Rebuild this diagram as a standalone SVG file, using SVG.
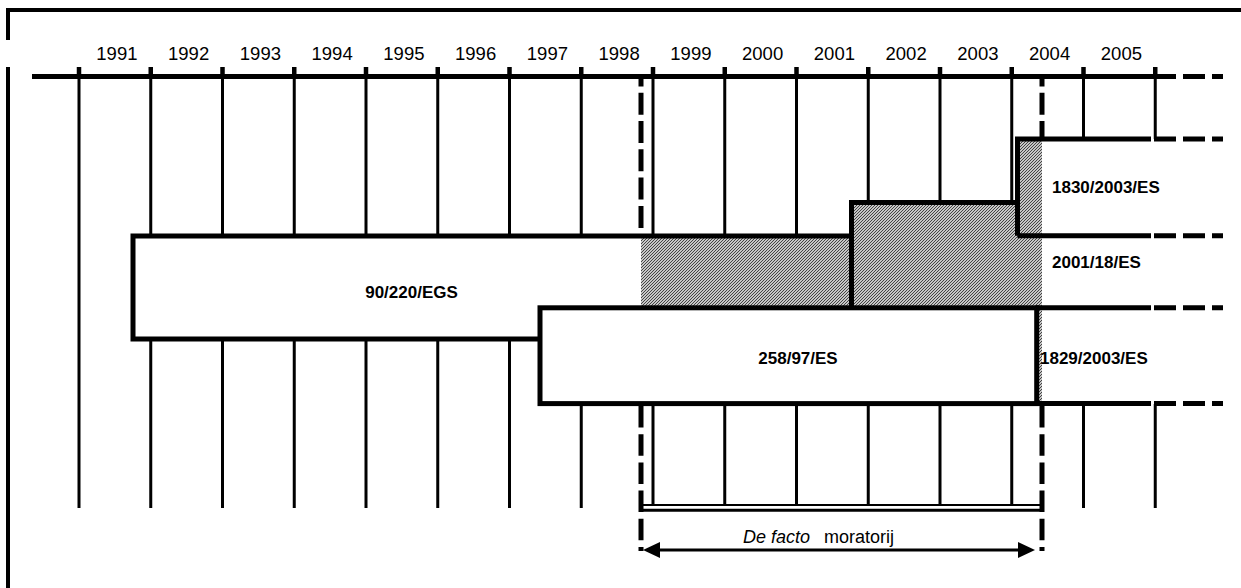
<svg xmlns="http://www.w3.org/2000/svg" width="1241" height="588" viewBox="0 0 1241 588">
<style>
.frame{fill:none;stroke:#000;stroke-width:4}
.axis{fill:none;stroke:#000;stroke-width:5}
.tick{stroke:#000;stroke-width:4.5}
.grid{fill:none;stroke:#000;stroke-width:3}
.edge{fill:none;stroke:#000;stroke-width:5}
.box{fill:#fff;stroke:#000;stroke-width:5}
.vdash{fill:none;stroke:#000;stroke-width:5}
.year{font-family:"Liberation Sans",Arial,sans-serif;font-size:18.5px;fill:#000;text-anchor:middle}
.lbl{font-family:"Liberation Sans",Arial,sans-serif;font-size:17px;font-weight:bold;fill:#000}
.note{font-family:"Liberation Sans",Arial,sans-serif;font-size:18px;fill:#000}
</style>
<defs>
<pattern id="hatch" patternUnits="userSpaceOnUse" width="3" height="3">
<rect width="3" height="3" fill="#fff"/>
<path d="M-1,1 L1,-1 M0,3 L3,0 M2,4 L4,2" stroke="#3a3a3a" stroke-width="1.1"/>
</pattern>
<marker id="head" viewBox="0 0 17 16" refX="10" refY="8" markerWidth="17" markerHeight="16" markerUnits="userSpaceOnUse" orient="auto-start-reverse">
<path d="M0,0 L17,8 L0,16 Z" fill="#000"/>
</marker>
</defs>
<rect width="1241" height="588" fill="#fff"/>

<g id="frame">
<path class="frame" d="M8,40 V10 H1241"/>
<path class="frame" d="M8,67 V588"/>
</g>

<g id="timeline">
<path class="axis" d="M32,76.5 H1176 M1183,76.5 H1205 M1212,76.5 H1223"/>
<path class="tick" d="M79,67 V77 M150.75,67 V77 M222.5,67 V77 M294.25,67 V77 M366,67 V77 M437.75,67 V77 M509.5,67 V77 M581.25,67 V77 M653,67 V77 M724.75,67 V77 M796.5,67 V77 M868.25,67 V77 M940,67 V77 M1011.75,67 V77 M1083.5,67 V77 M1155.25,67 V77"/>
<g class="year">
<text x="116.9" y="60">1991</text>
<text x="188.6" y="60">1992</text>
<text x="260.4" y="60">1993</text>
<text x="332.1" y="60">1994</text>
<text x="403.9" y="60">1995</text>
<text x="475.6" y="60">1996</text>
<text x="547.4" y="60">1997</text>
<text x="619.1" y="60">1998</text>
<text x="690.9" y="60">1999</text>
<text x="762.6" y="60">2000</text>
<text x="834.4" y="60">2001</text>
<text x="906.1" y="60">2002</text>
<text x="977.9" y="60">2003</text>
<text x="1049.6" y="60">2004</text>
<text x="1121.4" y="60">2005</text>
</g>
</g>

<g id="grid">
<path class="grid" d="M79,77 V508
M150.75,77 V236 M150.75,339 V508
M222.5,77 V236 M222.5,339 V508
M294.25,77 V236 M294.25,339 V508
M366,77 V236 M366,339 V508
M437.75,77 V236 M437.75,339 V508
M509.5,77 V236 M509.5,339 V508
M581.25,77 V236 M581.25,404 V508
M653,77 V236 M653,404 V505
M724.75,77 V236 M724.75,404 V505
M796.5,77 V236 M796.5,404 V505
M868.25,77 V202 M868.25,404 V505
M940,77 V202 M940,404 V505
M1011.75,77 V202 M1011.75,404 V505
M1083.5,77 V139 M1083.5,404 V508
M1155.25,77 V139 M1155.25,404 V508"/>
</g>

<g id="moratorium-shading">
<path d="M641,236 H851 V202 H1017 V139 H1042 V404 H641 Z" fill="url(#hatch)"/>
</g>

<g id="node-90-220-EGS">
<rect x="133" y="236" width="508" height="103" fill="#fff"/>
<path class="edge" d="M540,339 H133 V236 H851"/>
<text class="lbl" x="411.5" y="298" text-anchor="middle">90/220/EGS</text>
</g>

<g id="node-2001-18-ES">
<path class="edge" d="M851.5,308 V202.5 H1017.5"/>
<path class="edge" d="M1036,307.8 H1151 M1154,307.8 H1176 M1183,307.8 H1205 M1212,307.8 H1223"/>
<text class="lbl" x="1052" y="268">2001/18/ES</text>
</g>

<g id="node-1830-2003-ES">
<path class="edge" d="M1017.5,235.8 V139 H1151 M1154,139 H1176 M1183,139 H1205 M1212,139 H1223"/>
<path class="edge" d="M1017.5,235.8 H1151 M1154,235.8 H1176 M1183,235.8 H1205 M1212,235.8 H1223"/>
<text class="lbl" x="1052" y="193">1830/2003/ES</text>
</g>

<g id="node-258-97-ES">
<rect class="box" x="540" y="307.8" width="496.7" height="95.8"/>
<text class="lbl" x="798" y="364" text-anchor="middle">258/97/ES</text>
</g>

<g id="node-1829-2003-ES">
<path class="edge" d="M1036,403.6 H1151 M1154,403.6 H1176 M1183,403.6 H1205 M1212,403.6 H1223"/>
<text class="lbl" x="1040" y="364">1829/2003/ES</text>
</g>

<g id="connectors">
<path class="vdash" d="M641,79 V234" stroke-dasharray="22 6.3" stroke-dashoffset="14.6"/>
<path class="vdash" d="M1042,79 V137" stroke-dasharray="22 6.3" stroke-dashoffset="14.6"/>
<path class="vdash" d="M641,406 V551" stroke-dasharray="21.5 6.7"/>
<path class="vdash" d="M1042,406 V551" stroke-dasharray="21.5 6.7"/>
<path fill="none" stroke="#000" stroke-width="2" d="M639,505 H1044"/>
<path fill="none" stroke="#000" stroke-width="3" d="M639,510.3 H1044"/>
<path fill="none" stroke="#000" stroke-width="3" d="M650,550 H1028" marker-start="url(#head)" marker-end="url(#head)"/>
</g>

<g id="label-moratorij">
<text class="note" y="543"><tspan x="743" font-style="italic">De facto</tspan><tspan x="824">moratorij</tspan></text>
</g>
</svg>
